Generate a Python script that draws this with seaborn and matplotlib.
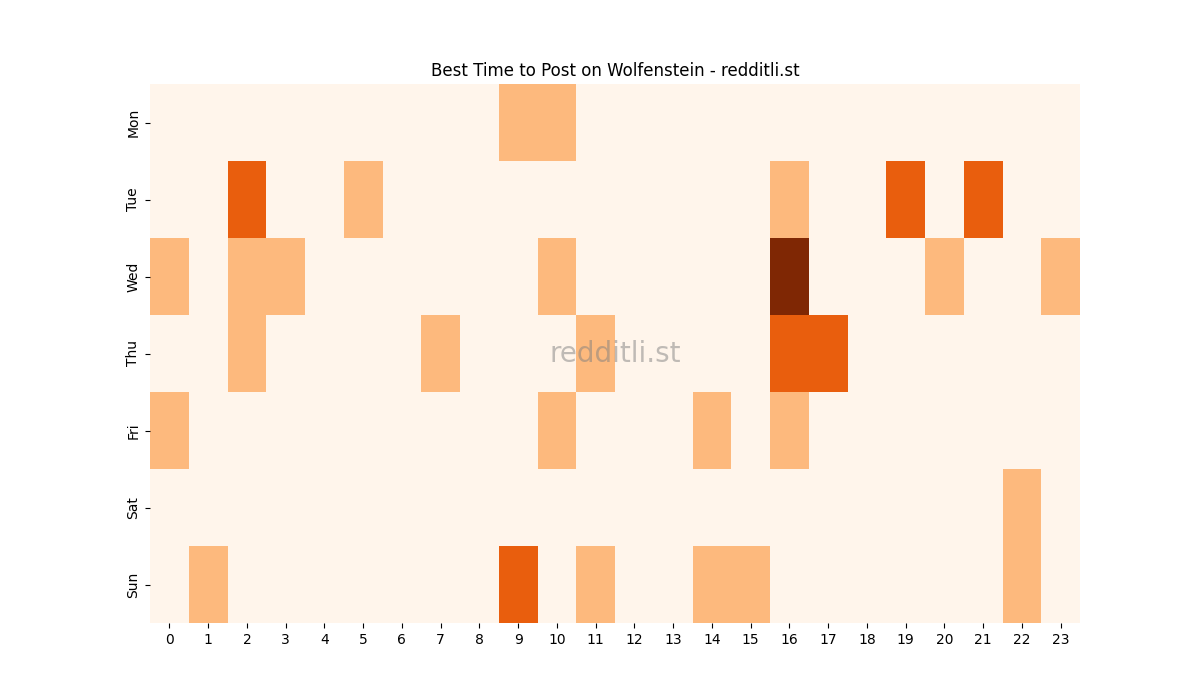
import matplotlib
matplotlib.use("Agg")
import matplotlib.pyplot as plt
import seaborn as sns
import numpy as np
import pandas as pd

days = ["Mon", "Tue", "Wed", "Thu", "Fri", "Sat", "Sun"]
hours = list(range(24))

mon = [0,0,0,0,0,0,0,0,0,1,1,0,0,0,0,0,0,0,0,0,0,0,0,0]
tue = [0,0,2,0,0,1,0,0,0,0,0,0,0,0,0,0,1,0,0,2,0,2,0,0]
wed = [1,0,1,1,0,0,0,0,0,0,1,0,0,0,0,0,3,0,0,0,1,0,0,1]
thu = [0,0,1,0,0,0,0,1,0,0,0,1,0,0,0,0,2,2,0,0,0,0,0,0]
fri = [1,0,0,0,0,0,0,0,0,0,1,0,0,0,1,0,1,0,0,0,0,0,0,0]
sat = [0,0,0,0,0,0,0,0,0,0,0,0,0,0,0,0,0,0,0,0,0,0,1,0]
sun = [0,1,0,0,0,0,0,0,0,2,0,1,0,0,1,1,0,0,0,0,0,0,1,0]

df = pd.DataFrame([mon, tue, wed, thu, fri, sat, sun], index=days, columns=hours)

fig, ax = plt.subplots(figsize=(12, 7), dpi=100)
sns.heatmap(df, cmap="Oranges", vmin=0, vmax=3, cbar=False, ax=ax)
ax.set_title("Best Time to Post on Wolfenstein - redditli.st", fontsize=12)
ax.set_xlabel("")
ax.set_ylabel("")
ax.set_yticklabels(days, rotation=90, va="center")
ax.set_xticklabels(hours, rotation=0)
ax.text(0.5, 0.5, "redditli.st", transform=ax.transAxes, ha="center", va="center",
        fontsize=20, color="grey", alpha=0.5)
fig.savefig("out.png")
